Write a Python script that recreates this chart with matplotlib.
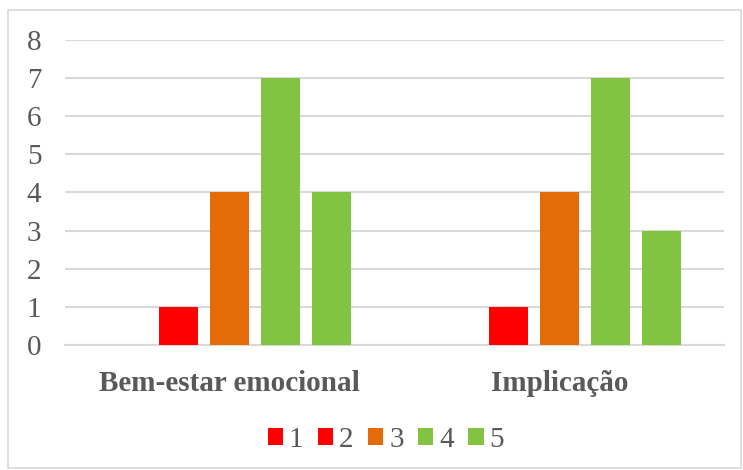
import matplotlib.pyplot as plt
from matplotlib.patches import Rectangle
import numpy as np

plt.rcParams['font.family'] = ['Liberation Serif', 'DejaVu Serif']

categories = ['Bem-estar emocional', 'Implicação']
series_names = ['1', '2', '3', '4', '5']
values = [
    [0, 0],   # 1
    [1, 1],   # 2
    [4, 4],   # 3
    [7, 7],   # 4
    [4, 3],   # 5
]
colors = ['#ff0000', '#ff0000', '#e36c09', '#82c341', '#82c341']

fig = plt.figure(figsize=(7.43, 4.70), dpi=100)
ax = fig.add_axes([0.0875, 0.266, 0.887, 0.649])

x = np.arange(len(categories))
step = 0.155
width = 0.118
for j, (name, vals, c) in enumerate(zip(series_names, values, colors)):
    ax.bar(x + (j - 2) * step, vals, width, color=c, label=name, zorder=3)

ax.set_xlim(-0.5, 1.5)
ax.set_ylim(0, 8)
ax.set_yticks(range(9))
ax.yaxis.grid(True, color='#d9d9d9', linewidth=1.5, zorder=0)
ax.set_xticks(x)
ax.set_xticklabels(categories, fontsize=21, fontweight='bold', color='#595959')
ax.tick_params(axis='y', labelsize=21, labelcolor='#595959', length=0, pad=17)
ax.tick_params(axis='x', length=0, pad=18)
for s in ['top', 'right', 'left']:
    ax.spines[s].set_visible(False)
ax.spines['bottom'].set_color('#d9d9d9')
ax.spines['bottom'].set_linewidth(1.5)

ax.legend(loc='center', bbox_to_anchor=(0.487, -0.31), ncol=5, frameon=False,
          fontsize=21, labelcolor='#595959', handlelength=0.52, handleheight=0.52,
          handletextpad=0.2, columnspacing=0.5, borderpad=0)

fig.add_artist(Rectangle((0.011, 0.004), 0.986, 0.975, transform=fig.transFigure,
                         fill=False, edgecolor='#d9d9d9', linewidth=1.2))

fig.savefig('out.png', dpi=100)
